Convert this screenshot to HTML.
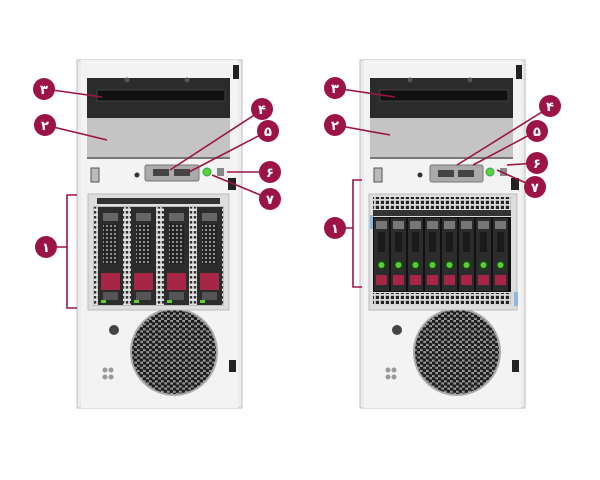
<!DOCTYPE html>
<html><head><meta charset="utf-8"><style>
html,body{margin:0;padding:0;background:#fff;width:600px;height:480px;overflow:hidden}
svg{display:block}
.n{font-family:"DejaVu Sans",sans-serif;font-size:13px;font-weight:bold;fill:#fff;text-anchor:middle}
</style></head><body>
<svg width="600" height="480" viewBox="0 0 600 480" xmlns="http://www.w3.org/2000/svg">
<defs>
<pattern id="hex" width="6" height="5.2" patternUnits="userSpaceOnUse">
<rect width="6" height="5.2" fill="#9a9a9a"/>
<circle cx="1.5" cy="1.3" r="1.9" fill="#1c1c1c"/>
<circle cx="4.5" cy="3.9" r="1.9" fill="#1c1c1c"/>
</pattern>
<pattern id="vent" width="5" height="5" patternUnits="userSpaceOnUse">
<rect width="5" height="5" fill="#d8d8d8"/><rect x="0.8" y="0.8" width="3.2" height="3.2" fill="#222"/>
</pattern>
<pattern id="mesh" width="4" height="4" patternUnits="userSpaceOnUse">
<rect width="4" height="4" fill="#222"/><circle cx="2" cy="2" r="1.1" fill="#9a9a9a"/>
</pattern>
<pattern id="lmesh" width="4" height="5" patternUnits="userSpaceOnUse">
<rect width="4" height="5" fill="#e0e0e0"/><rect x="0.8" y="1" width="2.4" height="2.6" fill="#333"/>
</pattern>
<g id="chassis">
<rect x="0" y="0" width="165" height="348" fill="#ececec" stroke="#bdbdbd"/>
<rect x="4" y="0" width="157" height="348" fill="#f3f3f3"/>
<rect x="10" y="18" width="143" height="40" fill="#2b2b2b"/>
<rect x="20" y="30" width="128" height="11" fill="#111" stroke="#555" stroke-width="0.6"/>
<rect x="10" y="58" width="143" height="40" fill="#c4c4c4"/>
<rect x="10" y="97" width="143" height="2" fill="#777"/>
<circle cx="97" cy="292" r="43" fill="url(#hex)"/>
<circle cx="97" cy="292" r="43" fill="none" stroke="#aaa" stroke-width="2"/>
<circle cx="37" cy="270" r="5" fill="#444"/>
<rect x="14" y="108" width="8" height="14" fill="#bbb" stroke="#555"/>
<rect x="151" y="118" width="8" height="12" fill="#222"/>
<rect x="156" y="5" width="6" height="14" fill="#222"/>
<rect x="152" y="300" width="7" height="12" fill="#222"/>
<circle cx="50" cy="20" r="2.5" fill="#555"/>
<circle cx="110" cy="20" r="2.5" fill="#555"/>
<circle cx="60" cy="115" r="2.5" fill="#333"/>
<circle cx="28" cy="310" r="2.5" fill="#999"/><circle cx="34" cy="310" r="2.5" fill="#999"/>
<circle cx="28" cy="317" r="2.5" fill="#999"/><circle cx="34" cy="317" r="2.5" fill="#999"/>
</g>
</defs>

<g transform="translate(77,60)">
<use href="#chassis"/>
<rect x="68" y="105" width="54" height="16" rx="2" fill="#aaa" stroke="#777"/>
<rect x="76" y="109" width="16" height="7" fill="#444"/><rect x="97" y="109" width="16" height="7" fill="#444"/>
<circle cx="130" cy="112" r="4" fill="#5fd030" stroke="#2a6"/>
<rect x="140" y="108" width="7" height="8" fill="#888"/>
<rect x="11" y="134" width="141" height="116" fill="#ddd" stroke="#bbb"/>
<rect x="20" y="138" width="123" height="6" fill="#333"/>
<rect x="16" y="146" width="131" height="100" fill="#bcbcbc"/>
<rect x="17" y="147" width="129" height="98" fill="url(#lmesh)"/>
<g id="ld">
<rect x="21" y="147" width="25" height="98" fill="#2c2c2c"/>
<rect x="26" y="153" width="15" height="8" fill="#666"/>
<rect x="26" y="164" width="15" height="40" fill="url(#mesh)"/>
<rect x="24" y="213" width="19" height="17" fill="#a82645"/>
<rect x="26" y="232" width="15" height="8" fill="#555"/>
<rect x="24" y="240" width="5" height="3" fill="#5fd030"/>
</g>
<use href="#ld" x="33"/><use href="#ld" x="66"/><use href="#ld" x="99"/>
</g>

<g transform="translate(360,60)">
<use href="#chassis"/>
<rect x="70" y="105" width="53" height="17" rx="2" fill="#aaa" stroke="#777"/>
<rect x="78" y="110" width="16" height="7" fill="#444"/><rect x="98" y="110" width="16" height="7" fill="#444"/>
<circle cx="130" cy="112" r="4" fill="#5fd030" stroke="#2a6"/>
<rect x="140" y="108" width="7" height="8" fill="#888"/>
<rect x="9" y="134" width="148" height="116" fill="#ddd" stroke="#bbb"/>
<rect x="10" y="155" width="4" height="14" fill="#8fb8e0"/>
<rect x="154" y="232" width="4" height="14" fill="#8fb8e0"/>
<rect x="13" y="137" width="138" height="12" fill="url(#vent)"/>
<rect x="13" y="150" width="138" height="6" fill="#333"/>
<rect x="13" y="157" width="138" height="75" fill="#111"/>
<g id="rd">
<rect x="14" y="158" width="15" height="73" fill="#2c2c2c"/>
<rect x="16" y="161" width="11" height="8" fill="#777"/>
<rect x="18" y="172" width="7" height="20" fill="#1a1a1a"/>
<circle cx="21.5" cy="205" r="5" fill="#1d3d1d"/><circle cx="21.5" cy="205" r="3" fill="#55d030"/>
<rect x="16" y="215" width="11" height="10" fill="#a82645"/>
</g>
<use href="#rd" x="17"/><use href="#rd" x="34"/><use href="#rd" x="51"/><use href="#rd" x="68"/><use href="#rd" x="85"/><use href="#rd" x="102"/><use href="#rd" x="119"/>
<rect x="13" y="233" width="138" height="12" fill="url(#vent)"/>
</g>

<g stroke="#9c1446" stroke-width="1.6" fill="none">
<line x1="45" y1="89" x2="102" y2="97"/>
<line x1="45" y1="125" x2="107" y2="140"/>
<line x1="262" y1="110" x2="170" y2="170"/>
<line x1="268" y1="131" x2="189" y2="172"/>
<line x1="269" y1="172" x2="227" y2="172"/>
<line x1="270" y1="199" x2="212" y2="175"/>
<polyline points="77,195 67,195 67,308 77,308"/>
<line x1="47" y1="247" x2="67" y2="247"/>
<line x1="335" y1="88" x2="395" y2="97"/>
<line x1="335" y1="125" x2="390" y2="135"/>
<line x1="550" y1="107" x2="457" y2="165"/>
<line x1="537" y1="131" x2="473" y2="165"/>
<line x1="537" y1="163" x2="507" y2="165"/>
<line x1="535" y1="187" x2="497" y2="170"/>
<polyline points="362,180 353,180 353,287 362,287"/>
<line x1="335" y1="228" x2="353" y2="228"/>
</g>

<g fill="#9c1446">
<circle cx="44" cy="89" r="11"/><circle cx="45" cy="125" r="11"/>
<circle cx="262" cy="109" r="11"/><circle cx="268" cy="131" r="11"/>
<circle cx="270" cy="172" r="11"/><circle cx="270" cy="199" r="11"/>
<circle cx="46" cy="247" r="11"/>
<circle cx="335" cy="88" r="11"/><circle cx="335" cy="125" r="11"/>
<circle cx="550" cy="106" r="11"/><circle cx="537" cy="131" r="11"/>
<circle cx="537" cy="163" r="11"/><circle cx="535" cy="187" r="11"/>
<circle cx="335" cy="228" r="11"/>
</g>
<g>
<text x="44" y="94" class="n">۳</text><text x="45" y="130" class="n">۲</text>
<text x="262" y="114" class="n">۴</text><text x="268" y="136" class="n">۵</text>
<text x="270" y="177" class="n">۶</text><text x="270" y="204" class="n">۷</text>
<text x="46" y="252" class="n">۱</text>
<text x="335" y="93" class="n">۳</text><text x="335" y="130" class="n">۲</text>
<text x="550" y="111" class="n">۴</text><text x="537" y="136" class="n">۵</text>
<text x="537" y="168" class="n">۶</text><text x="535" y="192" class="n">۷</text>
<text x="335" y="233" class="n">۱</text>
</g>
</svg>
</body></html>
